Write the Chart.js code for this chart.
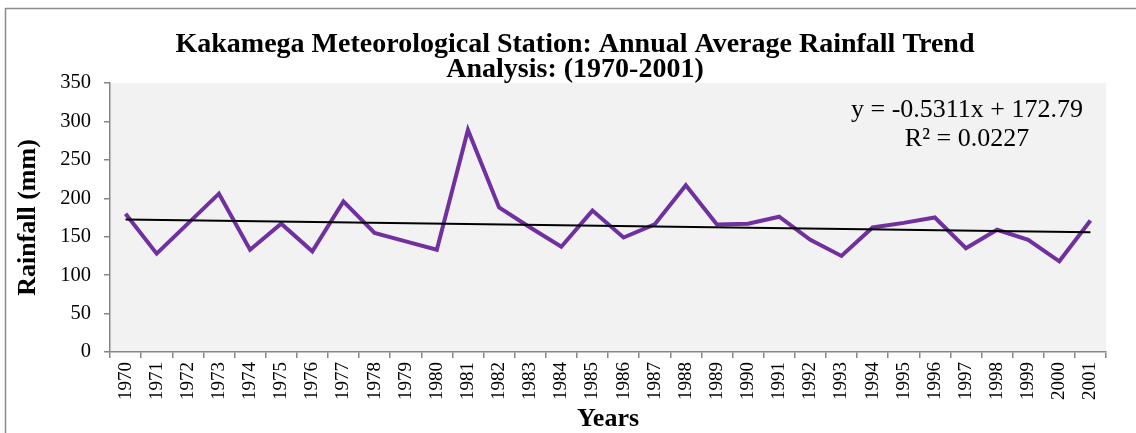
<!DOCTYPE html>
<html>
<head>
<meta charset="utf-8">
<script src="https://cdn.jsdelivr.net/npm/chart.js@4"></script>
<style>
  html, body { margin: 0; padding: 0; background: #ffffff; }
  #c { display: block; }
</style>
</head>
<body>
<canvas id="c" width="1136" height="433"></canvas>
<script>
// ---- data ----
const years = ['1970','1971','1972','1973','1974','1975','1976','1977','1978','1979',
               '1980','1981','1982','1983','1984','1985','1986','1987','1988','1989',
               '1990','1991','1992','1993','1994','1995','1996','1997','1998','1999',
               '2000','2001'];
const rainfall = [180, 128, 167, 206, 133, 167, 131, 196, 155, 144,
                  133, 289, 188, 162, 137, 184, 149, 166, 217, 166,
                  167, 176, 146, 125, 162, 168, 175, 135, 159, 146,
                  118, 171];
// trend line end values
const trendStart = 172.3;
const trendEnd = 155.8;
const yTicks = [0, 50, 100, 150, 200, 250, 300, 350];
const titleLines = ['Kakamega Meteorological Station: Annual Average Rainfall Trend', 'Analysis: (1970-2001)'];
const equationLines = ['y = -0.5311x + 172.79', 'R\u00B2 = 0.0227'];

const trendData = years.map((y, i) => i === 0 ? trendStart : (i === years.length - 1 ? trendEnd : null));

const SERIF = '"Liberation Serif", "Times New Roman", serif';

const bgPlugin = {
  id: 'bgPlugin',
  beforeDraw(chart) {
    const {ctx, chartArea: a} = chart;
    ctx.save();
    ctx.fillStyle = '#ffffff';
    ctx.fillRect(0, 0, chart.width, chart.height);
    ctx.strokeStyle = '#8c8c8c';
    ctx.lineWidth = 1.5;
    ctx.strokeRect(5.5, 8.5, chart.width + 20, chart.height + 20);
    ctx.fillStyle = '#f2f2f2';
    ctx.fillRect(a.left, a.top, a.right - a.left, a.bottom - a.top);
    ctx.restore();
  },
  afterDraw(chart) {
    const {ctx} = chart;
    ctx.save();
    ctx.fillStyle = '#000000';
    ctx.font = '26px ' + SERIF;
    ctx.textAlign = 'center';
    ctx.textBaseline = 'alphabetic';
    ctx.fillText(equationLines[0], 967, 117);
    ctx.fillText(equationLines[1], 967, 146);
    ctx.restore();
  }
};

new Chart(document.getElementById('c'), {
  type: 'line',
  data: {
    labels: years,
    datasets: [
      {
        label: 'Linear trend',
        data: trendData,
        borderColor: '#000000',
        borderWidth: 2,
        pointRadius: 0,
        spanGaps: true,
        tension: 0,
        order: 0
      },
      {
        label: 'Rainfall (mm)',
        data: rainfall,
        borderColor: '#7030a0',
        borderWidth: 4,
        pointRadius: 0,
        tension: 0,
        borderJoinStyle: 'miter',
        order: 1
      }
    ]
  },
  options: {
    responsive: false,
    animation: false,
    devicePixelRatio: 1,
    layout: { padding: { left: 14, right: 0, top: 0, bottom: 0 } },
    plugins: {
      legend: { display: false },
      tooltip: { enabled: false },
      title: {
        display: true,
        text: titleLines,
        color: '#000000',
        font: { family: SERIF, size: 28, weight: 'bold', lineHeight: '25.5px' },
        padding: { top: 32, bottom: 0 }
      }
    },
    scales: {
      x: {
        offset: true,
        grid: { display: true, drawOnChartArea: false, offset: true, color: '#868686', tickLength: 6, lineWidth: 1.5 },
        border: { display: true, color: '#868686', width: 1.5 },
        ticks: {
          color: '#000000',
          font: { family: SERIF, size: 19 },
          maxRotation: 90,
          minRotation: 90,
          autoSkip: false,
          padding: 4
        },
        title: {
          display: true,
          text: 'Years',
          color: '#000000',
          font: { family: SERIF, size: 26, weight: 'bold', lineHeight: 1 },
          padding: { top: 0, bottom: 1 }
        },
        afterFit(scale) { scale.height = 81; }
      },
      y: {
        min: 0,
        max: 350,
        afterBuildTicks(scale) { scale.ticks = yTicks.map(v => ({ value: v })); },
        grid: { display: true, drawOnChartArea: false, color: '#868686', tickLength: 6, lineWidth: 1.5 },
        border: { display: true, color: '#868686', width: 1.5 },
        ticks: {
          color: '#000000',
          font: { family: SERIF, size: 20.5 },
          padding: 13
        },
        title: {
          display: true,
          text: 'Rainfall (mm)',
          color: '#000000',
          font: { family: SERIF, size: 26, weight: 'bold', lineHeight: 1 },
          padding: { top: 1, bottom: 0 }
        },
        afterFit(scale) { scale.width = 96; }
      },
      yRight: {
        type: 'linear',
        position: 'right',
        display: true,
        grid: { display: false },
        border: { display: false },
        ticks: { display: false },
        title: { display: false },
        afterFit(scale) { scale.width = 30; }
      }
    }
  },
  plugins: [bgPlugin]
});
</script>
</body>
</html>
